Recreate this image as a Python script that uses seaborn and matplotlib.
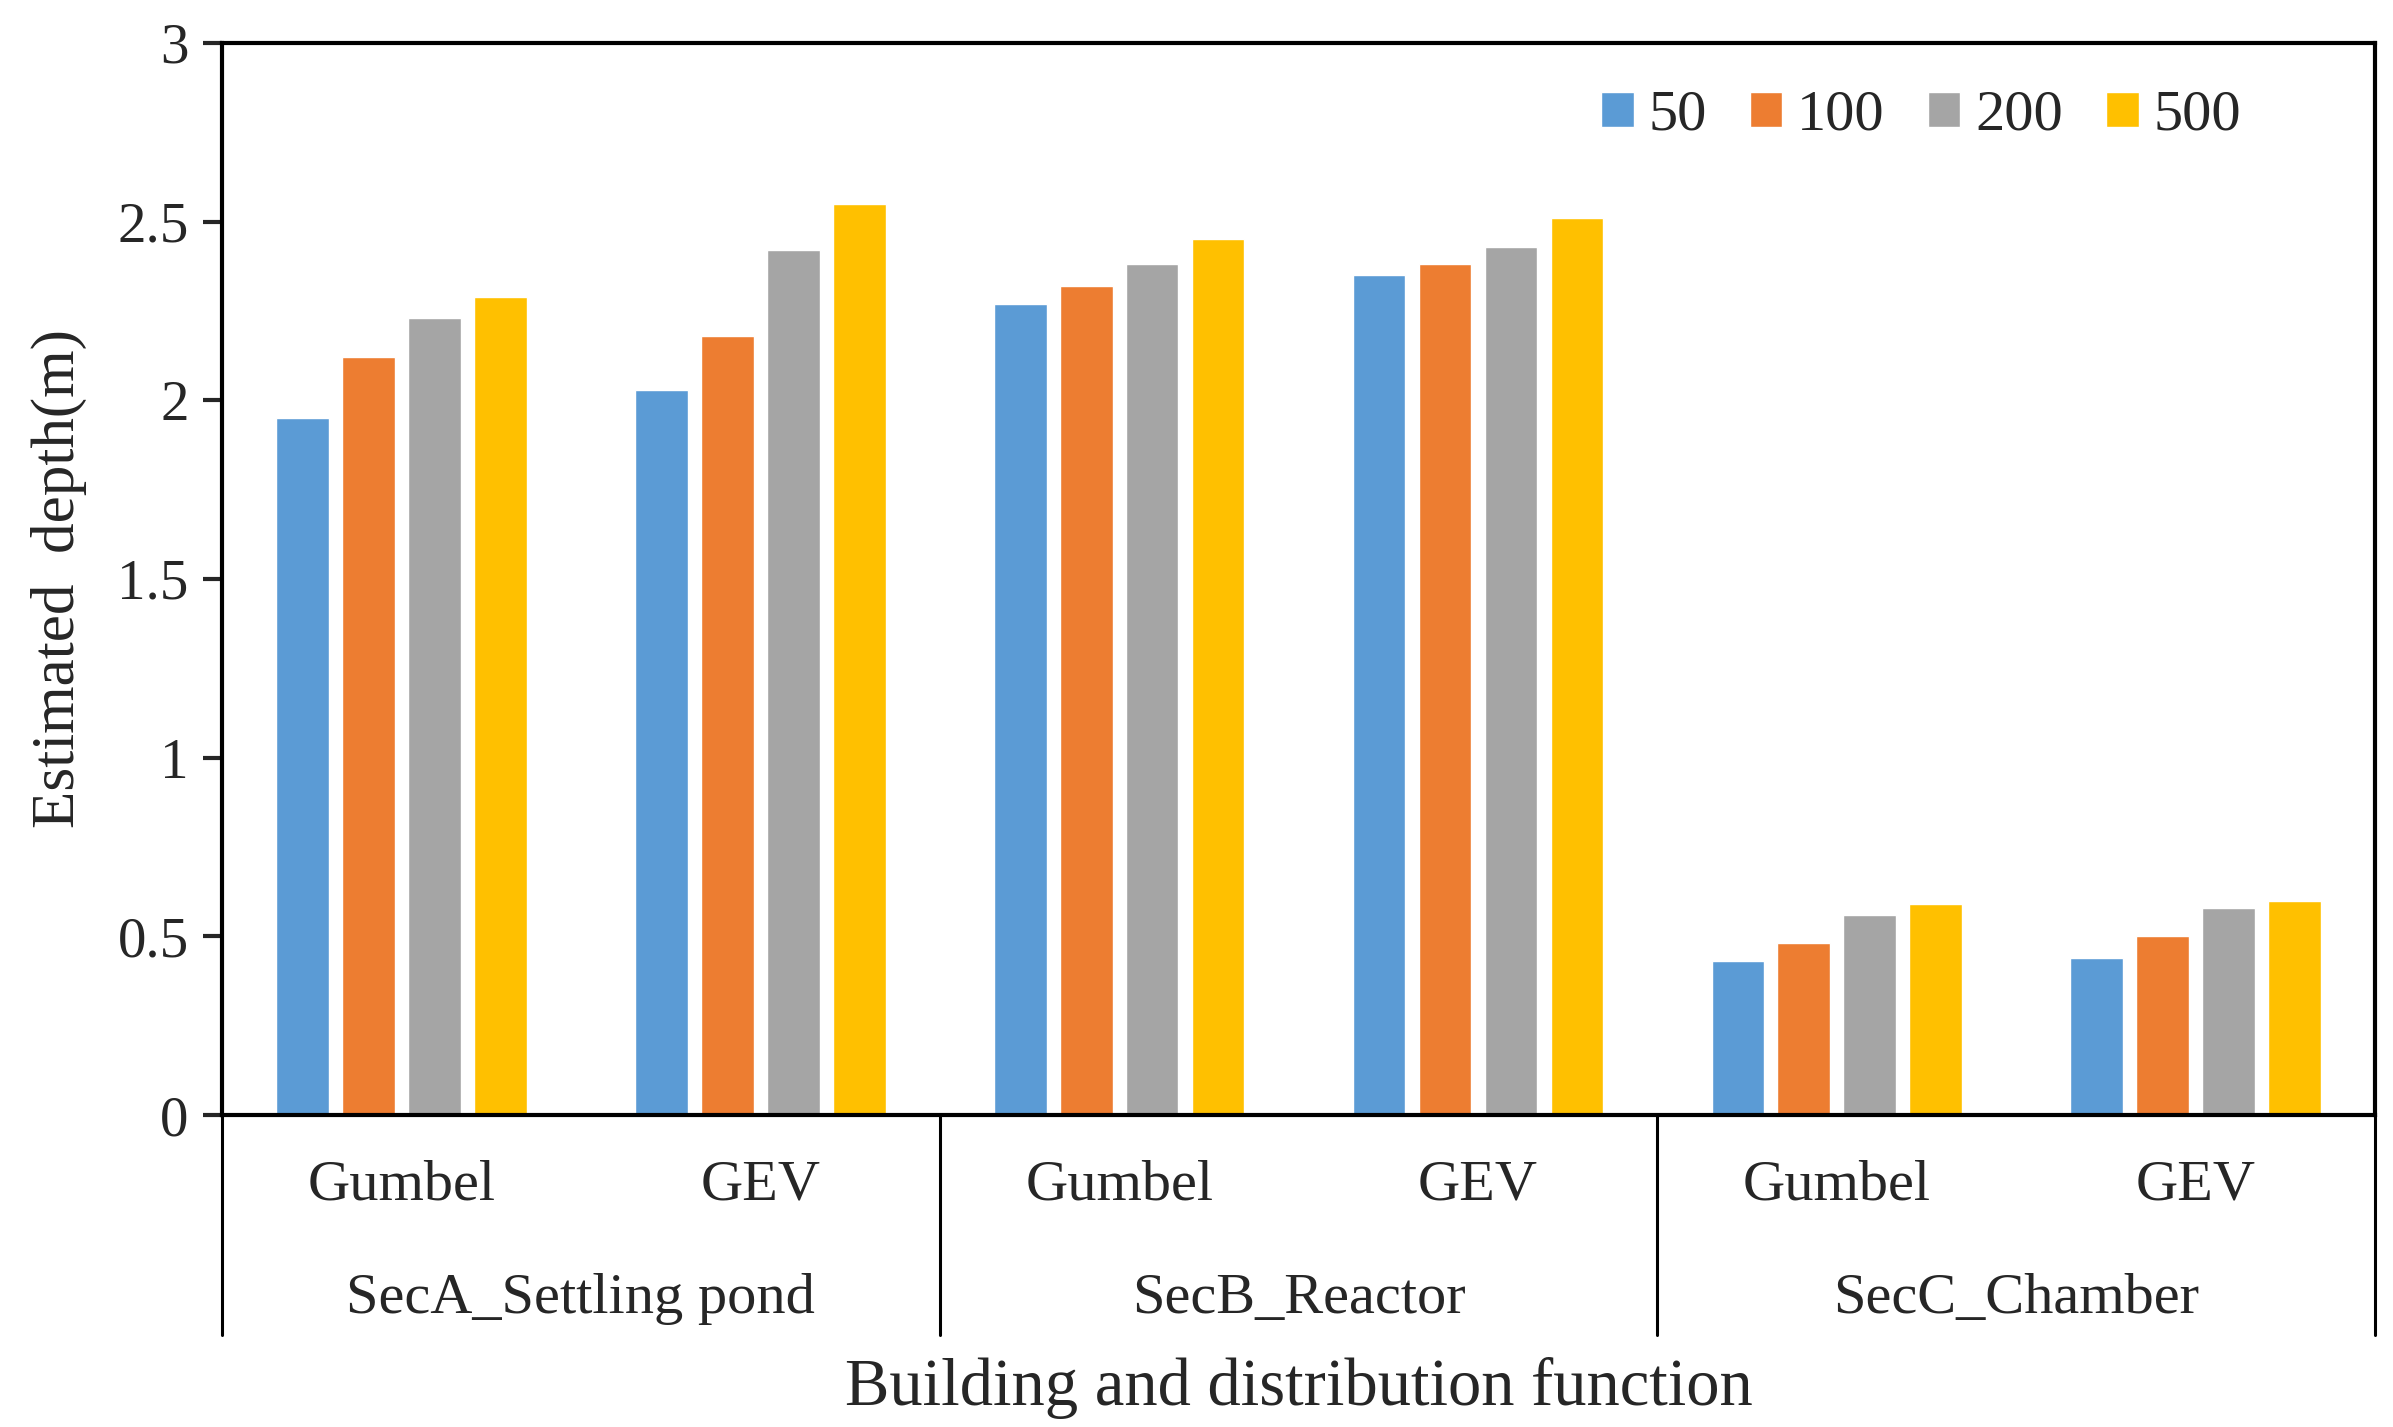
import pandas as pd
import seaborn as sns
import matplotlib.pyplot as plt

buildings = ["SecA_Settling pond", "SecB_Reactor", "SecC_Chamber"]
dists = ["Gumbel", "GEV"]
periods = ["50", "100", "200", "500"]
colors = ["#5B9BD5", "#ED7D31", "#A5A5A5", "#FFC000"]

# estimated depth (m) per building/distribution, one column per return period
depth_50 = [1.95, 2.03, 2.27, 2.35, 0.43, 0.44]
depth_100 = [2.12, 2.18, 2.32, 2.38, 0.48, 0.50]
depth_200 = [2.23, 2.42, 2.38, 2.43, 0.56, 0.58]
depth_500 = [2.29, 2.55, 2.45, 2.51, 0.59, 0.60]

slots = [b + "|" + d for b in buildings for d in dists]
rows = []
for p, vals in zip(periods, [depth_50, depth_100, depth_200, depth_500]):
    for s, v in zip(slots, vals):
        rows.append({"slot": s, "period": p, "depth": v})
df = pd.DataFrame(rows)

sns.set_style("white")
plt.rcParams['font.family'] = ['Liberation Serif', 'DejaVu Serif']

fig = plt.figure(figsize=(23.93, 14.27), dpi=100)
ax = fig.add_axes([0.0928, 0.2186, 0.8997, 0.7514])

sns.barplot(data=df, x="slot", y="depth", hue="period", order=slots,
            hue_order=periods, palette=colors, width=0.735, gap=0.2,
            saturation=1, ax=ax)

ax.set_xlim(-0.5, len(slots) - 0.5)
ax.set_ylim(0, 3)
ax.set_yticks([0, 0.5, 1, 1.5, 2, 2.5, 3])
ax.set_yticklabels(["0", "0.5", "1", "1.5", "2", "2.5", "3"])
ax.tick_params(axis="y", labelsize=41, length=14, width=3, direction="out", left=True, pad=10)
ax.set_xticks([])
ax.set_xlabel("")
ax.set_ylabel("Estimated  depth(m)", fontsize=44, labelpad=22)

for sp in ax.spines.values():
    sp.set_color("black")
    sp.set_linewidth(3)
    sp.set_visible(True)

trans = ax.get_xaxis_transform()
for i, s in enumerate(slots):
    ax.text(i, -0.066, s.split("|")[1], transform=trans, ha="center", va="center",
            fontsize=42, clip_on=False)
for j, b in enumerate(buildings):
    ax.text(2 * j + 0.5, -0.172, b, transform=trans, ha="center", va="center",
            fontsize=42, clip_on=False)
for xb in [-0.5, 1.5, 3.5, 5.5]:
    ax.plot([xb, xb], [0, -0.205], transform=trans, color="black", lw=2.2, clip_on=False)

ax.text(2.5, -0.255, "Building and distribution function", transform=trans,
        ha="center", va="center", fontsize=48, clip_on=False)

leg = ax.legend(loc="upper right", bbox_to_anchor=(0.962, 1.005), ncol=4, frameon=False,
                fontsize=42, handlelength=0.55, handleheight=0.55, handletextpad=0.25,
                columnspacing=0.75)

fig.savefig("out.png", dpi=100)
